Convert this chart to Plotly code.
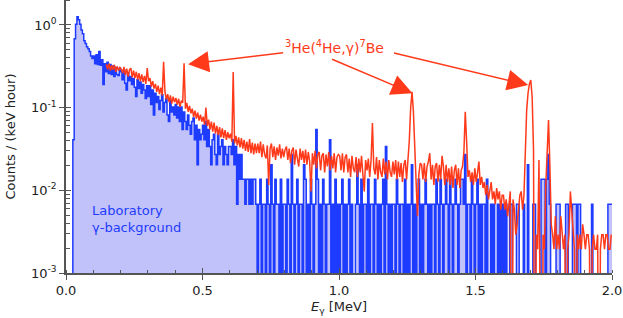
import plotly.graph_objects as go

# ---------------- data (counts per 5 keV bin) ----------------
BIN_MEV = 0.005
BLUE_E0 = 0.0      # first bin lower edge of laboratory background
RED_E0 = 0.145     # first bin lower edge of in-beam spectrum
BLUE_RATE_PER_COUNT = 0.0068   # counts/(keV hour) for one count in a bin
RED_RATE_PER_COUNT = 0.00097

blue_counts = (
    [0, 0, 0, 0, 0, 6, 100, 150, 185, 170, 150, 128, 115, 95, 88, 80, 76, 70, 62, 58]
    + [62, 50, 64, 49, 70, 48, 56, 28, 50, 40, 52, 38, 49, 37, 47, 35, 45, 37, 36, 44]
    + [40, 32, 42, 29, 24, 39, 31, 35, 28, 33, 26, 20, 32, 25, 30, 22, 28, 24, 19, 27]
    + [20, 27, 16, 24, 12, 22, 17, 20, 14, 18, 21, 13, 17, 19, 12, 10, 18, 13, 15, 12]
    + [16, 11, 15, 10, 15, 8, 13, 10, 8, 12, 9, 7, 10, 11, 6, 9, 3, 8, 6, 7]
    + [9, 6, 10, 5, 8, 5, 3, 6, 7, 4, 3, 7, 4, 5, 6, 3, 5, 4, 3, 5]
    + [5, 4, 6, 3, 5, 1, 4, 2, 4, 2, 2, 1, 2, 2, 1, 2, 1, 2, 2, 1]
    + [0, 1, 2, 0, 1, 1, 0, 2, 1, 0, 3, 1, 0, 2, 1, 1, 0, 2, 0, 1]
    + [1, 0, 2, 1, 0, 4, 1, 0, 1, 2, 0, 1, 1, 0, 3, 2, 0, 1, 0, 2]
    + [1, 0, 1, 8, 2, 0, 1, 0, 2, 1, 0, 1, 1, 6, 0, 1, 0, 2, 0, 1]
    + [0, 1, 2, 0, 1, 0, 1, 2, 0, 1, 0, 0, 1, 3, 1, 0, 2, 0, 1, 1]
    + [0, 2, 0, 1, 1, 0, 2, 1, 0, 1, 0, 1, 2, 0, 5, 1, 0, 1, 0, 1]
    + [1, 0, 2, 1, 0, 1, 1, 0, 2, 0, 1, 0, 1, 3, 0, 1, 0, 1, 2, 0]
    + [1, 0, 1, 2, 1, 0, 1, 0, 1, 1, 0, 2, 1, 0, 2, 1, 0, 1, 2, 1]
    + [0, 2, 1, 0, 1, 2, 1, 0, 1, 2, 2, 1, 4, 0, 1, 1, 0, 2, 1, 0]
    + [1, 2, 0, 1, 0, 1, 1, 0, 2, 0, 0, 1, 0, 1, 0, 0, 1, 0, 1, 0]
    + [1, 0, 1, 0, 0, 1, 1, 0, 0, 0, 1, 1, 0, 0, 0, 1, 0, 0, 3, 0]
    + [0, 0, 1, 1, 0, 0, 0, 0, 2, 2, 2, 0, 2, 4, 1, 0, 0, 0, 0, 1]
    + [1, 1, 0, 0, 0, 0, 1, 1, 0, 0, 0, 1, 1, 1, 0, 1, 1, 0, 0, 0]
    + [0, 0, 0, 0, 0, 1, 0, 0, 0, 0, 0, 0, 0, 0, 0, 0, 0, 1, 1, 1]
)

red_counts = (
    [345, 300, 350, 290, 335, 295, 340, 280, 325, 290, 315]
    + [300, 270, 320, 255, 305, 245, 295, 310, 240, 290, 235, 280, 225, 270, 215, 260, 210, 250, 200, 310]
    + [215, 235, 185, 215, 175, 200, 160, 190, 150, 180, 145, 370, 160, 130, 150, 120, 145, 115, 140, 120]
    + [135, 112, 132, 105, 125, 118, 355, 100, 118, 92, 108, 88, 100, 80, 95, 76, 90, 72, 85, 70]
    + [80, 64, 103, 62, 74, 56, 70, 53, 68, 50, 62, 48, 60, 45, 58, 44, 55, 42, 52, 44]
    + [50, 40, 278, 38, 47, 36, 45, 34, 44, 33, 42, 31, 40, 30, 43, 29, 39, 28, 38, 29]
    + [38, 29, 40, 26, 37, 28, 25, 36, 12, 33, 38, 26, 35, 24, 34, 27, 37, 25, 33, 26]
    + [32, 35, 24, 33, 22, 31, 34, 21, 32, 25, 20, 33, 24, 31, 22, 32, 21, 30, 23, 10]
    + [29, 21, 31, 19, 28, 30, 18, 27, 29, 17, 28, 20, 30, 18, 27, 19, 29, 17, 26, 28]
    + [27, 18, 29, 17, 26, 28, 17, 25, 15, 27, 19, 17, 26, 15, 25, 17, 27, 16, 10, 24]
    + [18, 25, 15, 24, 67, 19, 16, 26, 14, 24, 17, 15, 25, 16, 23, 14, 24, 17, 15, 23]
    + [16, 24, 14, 23, 15, 22, 13, 21, 24, 14, 22, 41, 103, 160, 93, 26, 13, 5, 16, 22]
    + [21, 14, 22, 13, 20, 23, 29, 14, 21, 12, 20, 22, 13, 21, 14, 27, 20, 12, 21, 13]
    + [19, 12, 20, 11, 18, 21, 12, 19, 11, 18, 20, 30, 92, 40, 15, 18, 13, 17, 12, 19]
    + [13, 17, 23, 12, 15, 11, 13, 9, 12, 8, 11, 13, 8, 10, 7, 11, 8, 10, 6, 9]
    + [9, 6, 8, 5, 7, 10, 0, 8, 6, 3, 4, 7, 9, 10, 6, 9, 31, 97, 155, 200]
    + [223, 139, 32, 0, 3, 2, 24, 4, 0, 3, 2, 12, 30, 73, 20, 4, 3, 2, 5, 2]
    + [3, 2, 5, 3, 2, 3, 0, 2, 3, 10, 6, 3, 2, 0, 3, 2, 3, 2, 4, 3]
    + [2, 3, 3, 2, 0, 2, 3, 2, 2, 3, 0, 2, 3, 3, 2, 3, 3, 2, 2, 3]
)

y_tick_vals = [1e-3, 1e-2, 1e-1, 1]
y_tick_text = ["10<sup>-3</sup>", "10<sup>-2</sup>", "10<sup>-1</sup>", "10<sup>0</sup>"]
x_tick_vals = [0.0, 0.5, 1.0, 1.5, 2.0]
x_tick_text = ["0.0", "0.5", "1.0", "1.5", "2.0"]

# ---------------- styling ----------------
BLUE = "#1e3cff"
FILL = "rgba(170,170,250,0.72)"
RED = "#ff3a1a"
AXIS = "#555555"
FONT = "DejaVu Sans"
FLOOR = 1e-6   # empty bins drop below the axis


def step_xy(e0, counts, scale):
    xs = [round(e0 + i * BIN_MEV, 6) for i in range(len(counts))]
    xs.append(round(e0 + len(counts) * BIN_MEV, 6))
    ys = [c * scale if c > 0 else FLOOR for c in counts]
    ys.append(ys[-1])
    return xs, ys


def center_xy(e0, counts, scale):
    xs = [round(e0 + (i + 0.5) * BIN_MEV, 6) for i in range(len(counts))]
    ys = [c * scale if c > 0 else FLOOR for c in counts]
    return xs, ys


bx, by = step_xy(BLUE_E0, blue_counts, BLUE_RATE_PER_COUNT)
rx, ry = center_xy(RED_E0, red_counts, RED_RATE_PER_COUNT)

fig = go.Figure()
fig.add_trace(go.Scatter(x=bx, y=by, mode="lines", line=dict(shape="hv", color=BLUE, width=1.5),
                         fill="tozeroy", fillcolor=FILL, hoverinfo="skip"))
fig.add_trace(go.Scatter(x=rx, y=ry, mode="lines", line=dict(color=RED, width=1.5),
                         hoverinfo="skip"))
# empty helper trace so the overlay axes (inner half of major ticks) are drawn
fig.add_trace(go.Scatter(x=[], y=[], xaxis="x2", yaxis="y2", hoverinfo="skip"))

YR = [-3, 0.302]
minor_y = [m * 10.0 ** d for d in (-3, -2, -1, 0) for m in range(2, 10)]

fig.update_layout(
    width=623, height=318,
    margin=dict(l=66, r=11, t=0, b=45),
    paper_bgcolor="white", plot_bgcolor="white",
    showlegend=False,
    font=dict(family=FONT, size=13, color="#222222"),
    xaxis=dict(range=[0, 2], showline=True, linecolor=AXIS, linewidth=1.5, mirror=False,
               ticks="outside", ticklen=5, tickwidth=1.2, tickcolor=AXIS,
               tickvals=x_tick_vals, ticktext=x_tick_text,
               minor=dict(ticks="inside", dtick=0.1, ticklen=3, tickwidth=1, tickcolor=AXIS),
               showgrid=False, zeroline=False,
               title=dict(text="<i>E</i><sub>γ</sub> [MeV]", standoff=5, font=dict(size=13))),
    yaxis=dict(type="log", range=YR, showline=True, linecolor=AXIS, linewidth=1.5,
               ticks="outside", ticklen=5, tickwidth=1.2, tickcolor=AXIS,
               tickvals=y_tick_vals, ticktext=y_tick_text,
               minor=dict(ticks="inside", tickvals=minor_y, ticklen=4, tickwidth=1, tickcolor=AXIS),
               showgrid=False, zeroline=False,
               title=dict(text="Counts / (keV hour)", standoff=12, font=dict(size=13))),
    xaxis2=dict(overlaying="x", anchor="y2", range=[0, 2], ticks="inside", ticklen=5, tickwidth=1.2,
                tickcolor=AXIS, tickvals=x_tick_vals, showticklabels=False, showline=False,
                showgrid=False, zeroline=False),
    yaxis2=dict(overlaying="y", anchor="x2", type="log", range=YR, ticks="inside", ticklen=5,
                tickwidth=1.2, tickcolor=AXIS, tickvals=y_tick_vals, showticklabels=False,
                showline=False, showgrid=False, zeroline=False),
)

# reaction label and arrows (tip = peak, tail near text)
fig.add_annotation(x=0.984, y=-0.266, xref="x", yref="y", showarrow=False,
                   text="<sup>3</sup>He(<sup>4</sup>He,γ)<sup>7</sup>Be",
                   font=dict(family=FONT, size=14, color=RED))
arrows = [((0.447, -0.475), (0.801, -0.335)),
          ((1.269, -0.826), (0.969, -0.407)),
          ((1.693, -0.726), (1.196, -0.335))]
for (tx, ty), (ax_, ay_) in arrows:
    fig.add_annotation(x=tx, y=ty, ax=ax_, ay=ay_, xref="x", yref="y", axref="x", ayref="y",
                       showarrow=True, arrowhead=2, arrowsize=2.8, arrowwidth=1.5,
                       arrowcolor=RED, text="")

fig.add_annotation(x=0.089, y=-2.346, xref="x", yref="y", showarrow=False, xanchor="left",
                   align="left", text="Laboratory<br>γ-background",
                   font=dict(family=FONT, size=13, color=BLUE))

fig.write_html("out.html", config={"displayModeBar": False},
               post_script="document.body.style.margin='0';")
